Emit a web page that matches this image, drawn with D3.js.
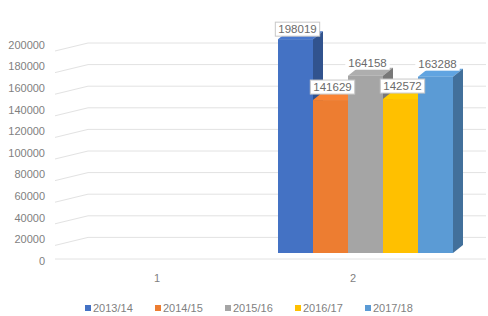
<!DOCTYPE html>
<html>
<head>
<meta charset="utf-8">
<script src="https://cdn.jsdelivr.net/npm/d3@7"></script>
<style>
  body { margin: 0; background: #fff; }
  text { font-family: "Liberation Sans", Arial, sans-serif; }
</style>
</head>
<body>
<div id="chart"></div>
<script>
// chart data
var categories = ["1", "2"];
var seriesNames = ["2013/14", "2014/15", "2015/16", "2016/17", "2017/18"];
var seriesValues = [198019, 141629, 164158, 142572, 163288];   // all in category "2"
var yTicks = [0, 20000, 40000, 60000, 80000, 100000, 120000, 140000, 160000, 180000, 200000];
var colors = ["#4472C4", "#ED7D31", "#A5A5A5", "#FFC000", "#5B9BD5"];

var width = 488, height = 316;
var depth = {dx: 10, dy: -8};      // 3d offset of bar sides
var wall = {dx: 33, dy: -8};       // side wall slant

var svg = d3.select("#chart").append("svg")
    .attr("width", width)
    .attr("height", height);

// back wall value scale
var y = d3.scaleLinear()
    .domain([0, 200000])
    .range([259, 43]);

// bar scale (front face sits a little lower than the back wall)
var yBar = d3.scaleLinear()
    .domain([0, 200000])
    .range([253, 37]);

var x = d3.scaleBand()
    .domain(categories)
    .range([59, 451]);

var xs = d3.scaleBand()
    .domain(seriesNames)
    .range([x("2") + 23, x("2") + x.bandwidth() + 2]);

// gridlines
var grid = svg.append("g");
grid.selectAll("line.h")
  .data(yTicks)
  .enter().append("line")
    .attr("x1", function(d) { return d === 0 ? 55 : 55 + wall.dx; })
    .attr("x2", 486)
    .attr("y1", function(d) { return y(d); })
    .attr("y2", function(d) { return y(d); })
    .attr("stroke", "#e2e2e2")
    .attr("stroke-width", 1);
grid.selectAll("line.d")
  .data(yTicks.filter(function(d) { return d > 0; }))
  .enter().append("line")
    .attr("x1", 55)
    .attr("x2", 55 + wall.dx)
    .attr("y1", function(d) { return y(d) - wall.dy; })
    .attr("y2", function(d) { return y(d); })
    .attr("stroke", "#e2e2e2")
    .attr("stroke-width", 1);

// y labels
svg.append("g").selectAll("text")
  .data(yTicks)
  .enter().append("text")
    .attr("x", 45)
    .attr("y", function(d) { return y(d) + 2; })
    .attr("dy", "0.35em")
    .attr("text-anchor", "end")
    .attr("font-size", 11)
    .attr("fill", "#7f7f7f")
    .text(function(d) { return d; });

// category labels
svg.append("g").selectAll("text")
  .data(categories)
  .enter().append("text")
    .attr("x", function(d) { return x(d) + x.bandwidth() / 2; })
    .attr("y", 278)
    .attr("dy", "0.35em")
    .attr("text-anchor", "middle")
    .attr("font-size", 11)
    .attr("fill", "#7f7f7f")
    .text(function(d) { return d; });

// bars, drawn left to right so each front hides the previous side
var bars = seriesValues.map(function(v, i) { return {name: seriesNames[i], value: v, color: colors[i]}; });
var g = svg.append("g");
bars.forEach(function(d) {
  var x0 = xs(d.name), x1 = x0 + xs.bandwidth();
  var yt = yBar(d.value), yb = yBar(0);
  var c = d3.color(d.color);
  // top
  g.append("path")
    .attr("d", "M" + x0 + "," + yt + "L" + x1 + "," + yt +
               "L" + (x1 + depth.dx) + "," + (yt + depth.dy) +
               "L" + (x0 + depth.dx) + "," + (yt + depth.dy) + "Z")
    .attr("fill", c.brighter(0.15));
  // side
  g.append("path")
    .attr("d", "M" + x1 + "," + yt + "L" + (x1 + depth.dx) + "," + (yt + depth.dy) +
               "L" + (x1 + depth.dx) + "," + (yb + depth.dy) +
               "L" + x1 + "," + yb + "Z")
    .attr("fill", c.darker(0.9));
  // front
  g.append("rect")
    .attr("x", x0)
    .attr("y", yt)
    .attr("width", xs.bandwidth())
    .attr("height", yb - yt)
    .attr("fill", d.color);
});

// data labels
var lab = svg.append("g");
bars.forEach(function(d, i) {
  var cx = xs(d.name) + xs.bandwidth() / 2 + 2;
  var cy = yBar(d.value) - (i === 0 ? 10 : 13);
  var t = lab.append("text")
    .attr("x", cx)
    .attr("y", cy)
    .attr("dy", "0.35em")
    .attr("text-anchor", "middle")
    .attr("font-size", 11.5)
    .attr("fill", "#6a6a6a")
    .text(d.value);
  var bb = t.node().getBBox();
  var boxed = (i === 0 || i === 1 || i === 3);
  lab.insert("rect", function() { return t.node(); })
    .attr("x", bb.x - 3)
    .attr("y", bb.y - 1)
    .attr("width", bb.width + 6)
    .attr("height", bb.height + 2)
    .attr("fill", "#fff")
    .attr("stroke", boxed ? "#c8c8c8" : "none")
    .attr("stroke-width", 1);
});

// legend
var legend = svg.append("g").selectAll("g")
  .data(seriesNames)
  .enter().append("g")
    .attr("transform", function(d, i) { return "translate(" + (85 + i * 70) + ",308)"; });
legend.append("rect")
    .attr("x", 0)
    .attr("y", -3)
    .attr("width", 6)
    .attr("height", 6)
    .attr("fill", function(d, i) { return colors[i]; });
legend.append("text")
    .attr("x", 8)
    .attr("y", 0)
    .attr("dy", "0.35em")
    .attr("font-size", 11)
    .attr("fill", "#7f7f7f")
    .text(function(d) { return d; });
</script>
</body>
</html>
